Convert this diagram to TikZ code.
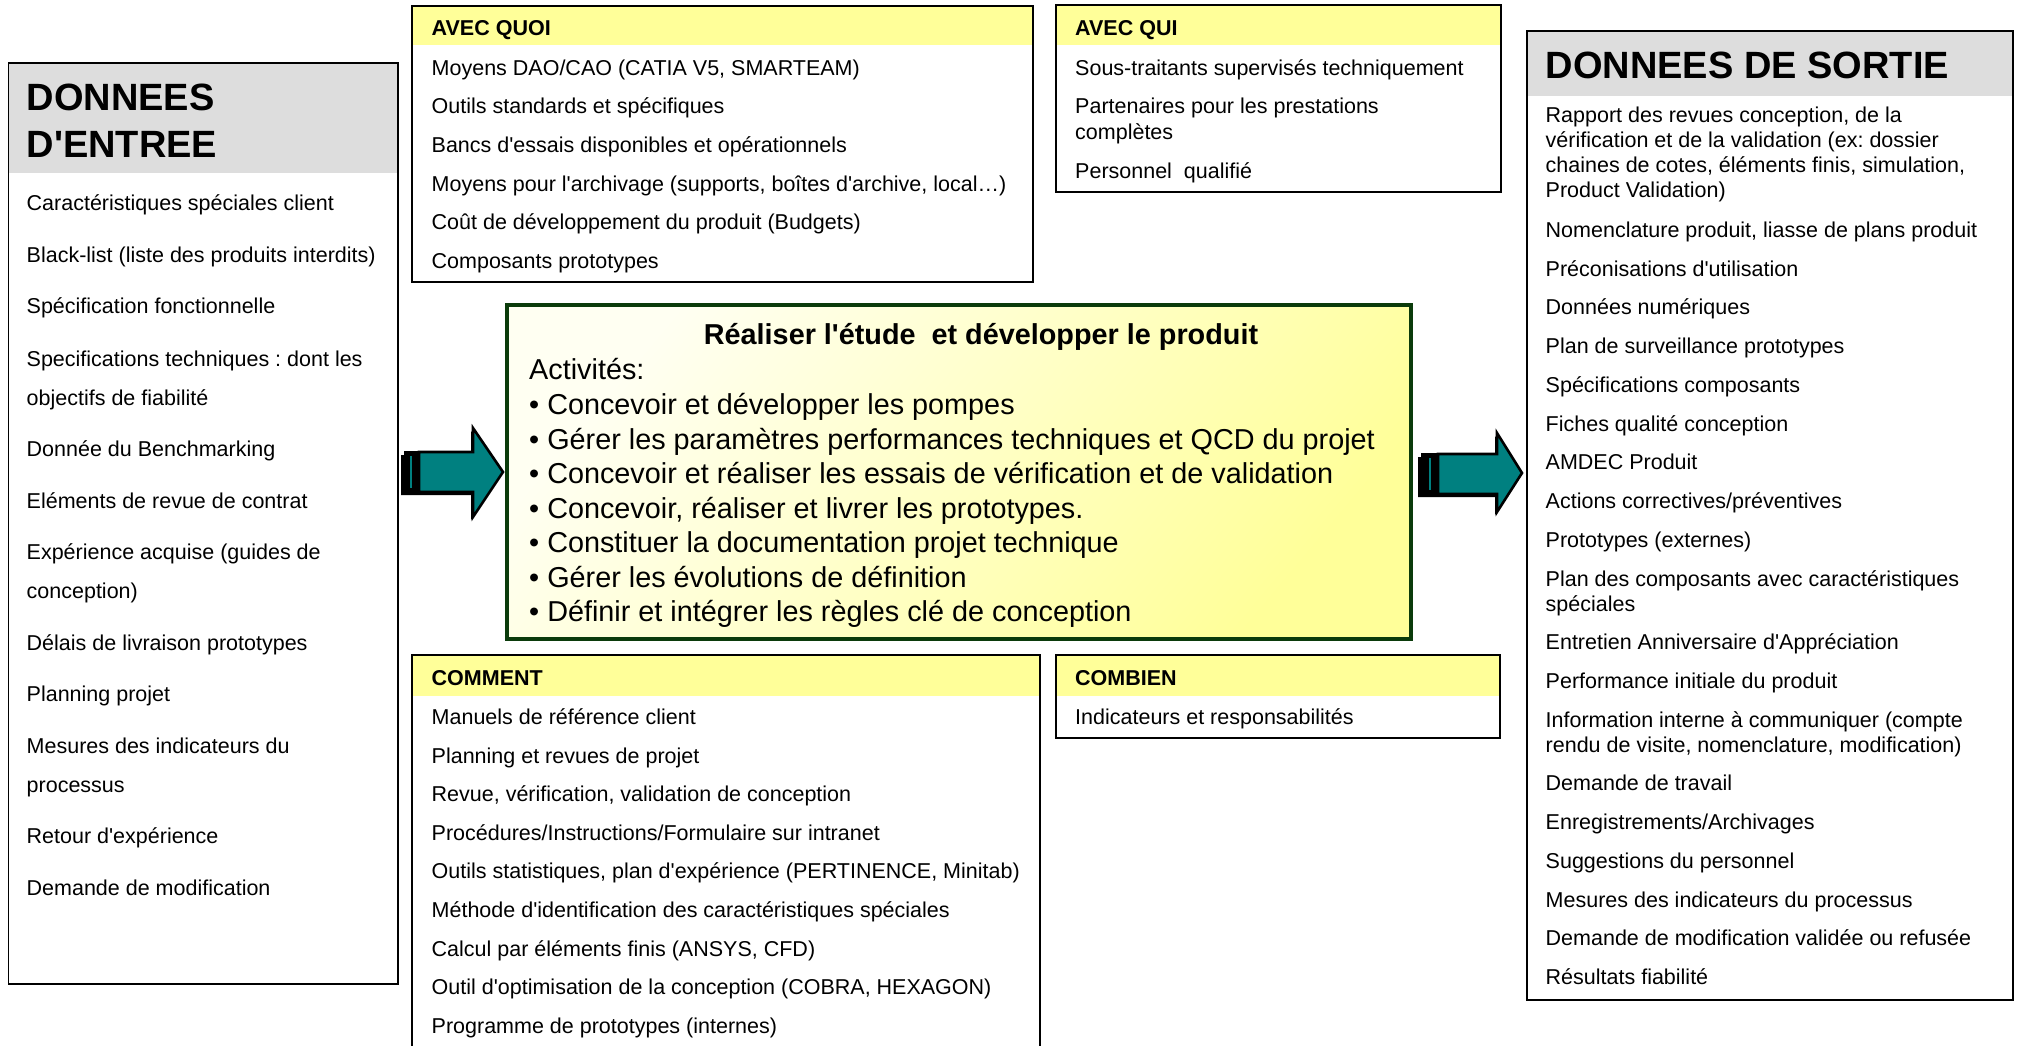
\documentclass[tikz,border=0pt]{standalone}
\usepackage{fontspec}
\setmainfont{Liberation Sans}[Ligatures=TeXOff]
\frenchspacing
\definecolor{hdrylw}{HTML}{FFFF99}
\definecolor{hdrgray}{HTML}{DDDDDD}
\definecolor{arrteal}{HTML}{008080}
\definecolor{boxgreen}{HTML}{0B3B0B}
\definecolor{paleylw}{HTML}{FFFFF2}
\begin{document}
\begin{tikzpicture}[x=1pt,y=-1pt,
  txt/.style={anchor=base west,inner sep=0pt,font=\fontsize{21.5}{25}\selectfont},
  hdr/.style={anchor=base west,inner sep=0pt,font=\fontsize{21.5}{25}\selectfont\bfseries},
  bighdr/.style={anchor=base west,inner sep=0pt,font=\fontsize{38}{46}\selectfont\bfseries},
  act/.style={anchor=base west,inner sep=0pt,font=\fontsize{28.8}{34}\selectfont},
  frame/.style={draw=black,line width=1.6pt},
  arrowbody/.style={fill=arrteal,draw=black,line width=2.6pt,line join=miter},
]
\useasboundingbox (0,0) rectangle (2019,1045);
\fill[white] (0,0) rectangle (2019,1045);

% ---------- header fills ----------
\fill[hdrgray] (9,64) rectangle (397,173);
\fill[hdrgray] (1528,32) rectangle (2012,96);
\fill[hdrylw] (413,7) rectangle (1032,45);
\fill[hdrylw] (1057,6) rectangle (1500,45);
\fill[hdrylw] (413,656) rectangle (1039,696);
\fill[hdrylw] (1057,656) rectangle (1499,696);

% ---------- frames ----------
\draw[frame] (8.5,63) rectangle (398,984);
\draw[frame] (1527,31) rectangle (2013,1000);
\draw[frame] (412,6) rectangle (1033,282);
\draw[frame] (1056,5) rectangle (1501,192);
\draw[frame] (412,1050) -- (412,655) -- (1040,655) -- (1040,1050);
\draw[frame] (1056,655) rectangle (1500,738);

% ---------- centre box ----------
\shade[shading=axis,top color=paleylw,bottom color=hdrylw,shading angle=50]
  (507,305) rectangle (1411,639);
\draw[draw=boxgreen,line width=4pt] (507,305) rectangle (1411,639);

% ---------- block arrows ----------
\fill[black] (401,455) -- (471,455) -- (471,431) -- (501,475) -- (471,520) -- (471,495) -- (401,495) -- cycle;
\draw[arrowbody] (419,452) -- (473,452) -- (473,428) -- (503,472) -- (473,517) -- (473,492) -- (419,492) -- cycle;
\fill[black] (404,450.7) rectangle (419,493.3);
\fill[arrteal] (409.5,456) rectangle (411.5,488);

\fill[black] (1418,457) -- (1495,457) -- (1495,436) -- (1520,476) -- (1495,515) -- (1495,497) -- (1418,497) -- cycle;
\draw[arrowbody] (1438,454) -- (1497,454) -- (1497,433) -- (1522,473) -- (1497,512) -- (1497,494) -- (1438,494) -- cycle;
\fill[black] (1421,452.7) rectangle (1438,495.3);
\fill[arrteal] (1429,458) rectangle (1431,490);

% ---------- DONNEES D'ENTREE ----------
\node[bighdr] (inh1) at (26.5,110) {DONNEES};
\node[bighdr] (inh2) at (26.5,157) {D'ENTREE};
\node[txt] (in1)  at (26.5,210.5) {Caractéristiques spéciales client};
\node[txt] (in2)  at (26.5,262)   {Black-list (liste des produits interdits)};
\node[txt] (in3)  at (26.5,313.5) {Spécification fonctionnelle};
\node[txt] (in4a) at (26.5,366)   {Specifications techniques : dont les};
\node[txt] (in4b) at (26.5,405)   {objectifs de fiabilité};
\node[txt] (in5)  at (26.5,456.5) {Donnée du Benchmarking};
\node[txt] (in6)  at (26.5,508)   {Eléments de revue de contrat};
\node[txt] (in7a) at (26.5,559.5) {Expérience acquise (guides de};
\node[txt] (in7b) at (26.5,598.5) {conception)};
\node[txt] (in8)  at (26.5,650)   {Délais de livraison prototypes};
\node[txt] (in9)  at (26.5,701.5) {Planning projet};
\node[txt] (in10a) at (26.5,753) {Mesures des indicateurs du};
\node[txt] (in10b) at (26.5,792) {processus};
\node[txt] (in11) at (26.5,843.5) {Retour d'expérience};
\node[txt] (in12) at (26.5,895)   {Demande de modification};

% ---------- AVEC QUOI ----------
\node[hdr] (qh) at (431.5,35) {AVEC QUOI};
\node[txt] (q1) at (431.5,75.3)  {Moyens DAO/CAO (CATIA V5, SMARTEAM)};
\node[txt] (q2) at (431.5,113.9) {Outils standards et spécifiques};
\node[txt] (q3) at (431.5,152.5) {Bancs d'essais disponibles et opérationnels};
\node[txt] (q4) at (431.5,191.1) {Moyens pour l'archivage (supports, boîtes d'archive, local…)};
\node[txt] (q5) at (431.5,229.7) {Coût de développement du produit (Budgets)};
\node[txt] (q6) at (431.5,268.3) {Composants prototypes};

% ---------- AVEC QUI ----------
\node[hdr] (wh) at (1075,35) {AVEC QUI};
\node[txt] (w1)  at (1075,75.3)  {Sous-traitants supervisés techniquement};
\node[txt] (w2a) at (1075,113.9) {Partenaires pour les prestations};
\node[txt] (w2b) at (1075,139.6) {complètes};
\node[txt] (w3)  at (1075,178.2) {Personnel\ \ qualifié};

% ---------- centre text ----------
\node[anchor=base,inner sep=0pt,font=\fontsize{28.8}{34}\selectfont\bfseries] (title) at (981,344)
  {Réaliser l'étude\ \ et développer le produit};
\node[act] (a0) at (529,379.5) {Activités:};
\node[act] (a1) at (529,414.5) {• Concevoir et développer les pompes};
\node[act] (a2) at (529,449)   {• Gérer les paramètres performances techniques et QCD du projet};
\node[act] (a3) at (529,483.5) {• Concevoir et réaliser les essais de vérification et de validation};
\node[act] (a4) at (529,518)   {• Concevoir, réaliser et livrer les prototypes.};
\node[act] (a5) at (529,552.5) {• Constituer la documentation projet technique};
\node[act] (a6) at (529,587)   {• Gérer les évolutions de définition};
\node[act] (a7) at (529,621.5) {• Définir et intégrer les règles clé de conception};

% ---------- COMMENT ----------
\node[hdr] (ch) at (431.5,685) {COMMENT};
\node[txt] (c1) at (431.5,724.5)  {Manuels de référence client};
\node[txt] (c2) at (431.5,763)    {Planning et revues de projet};
\node[txt] (c3) at (431.5,801.6)  {Revue, vérification, validation de conception};
\node[txt] (c4) at (431.5,840.2)  {Procédures/Instructions/Formulaire sur intranet};
\node[txt] (c5) at (431.5,878.8)  {Outils statistiques, plan d'expérience (PERTINENCE, Minitab)};
\node[txt] (c6) at (431.5,917.4)  {Méthode d'identification des caractéristiques spéciales};
\node[txt] (c7) at (431.5,956)    {Calcul par éléments finis (ANSYS, CFD)};
\node[txt] (c8) at (431.5,994.6)  {Outil d'optimisation de la conception (COBRA, HEXAGON)};
\node[txt] (c9) at (431.5,1033.2) {Programme de prototypes (internes)};

% ---------- COMBIEN ----------
\node[hdr] (bh) at (1075,685) {COMBIEN};
\node[txt] (b1) at (1075,724.5) {Indicateurs et responsabilités};

% ---------- DONNEES DE SORTIE ----------
\node[bighdr] (outh) at (1545.5,78) {DONNEES DE SORTIE};
\node[txt] (o1a) at (1545.5,122) {Rapport des revues conception, de la};
\node[txt] (o1b) at (1545.5,147) {vérification et de la validation (ex: dossier};
\node[txt] (o1c) at (1545.5,172) {chaines de cotes, éléments finis, simulation,};
\node[txt] (o1d) at (1545.5,197) {Product Validation)};
\node[txt] (o2)  at (1545.5,237.5) {Nomenclature produit, liasse de plans produit};
\node[txt] (o3)  at (1545.5,276.2) {Préconisations d'utilisation};
\node[txt] (o4)  at (1545.5,314.9) {Données numériques};
\node[txt] (o5)  at (1545.5,353.7) {Plan de surveillance prototypes};
\node[txt] (o6)  at (1545.5,392.4) {Spécifications composants};
\node[txt] (o7)  at (1545.5,431.1) {Fiches qualité conception};
\node[txt] (o8)  at (1545.5,469.8) {AMDEC Produit};
\node[txt] (o9)  at (1545.5,508.5) {Actions correctives/préventives};
\node[txt] (o10) at (1545.5,547.3) {Prototypes (externes)};
\node[txt] (o11a) at (1545.5,586)   {Plan des composants avec caractéristiques};
\node[txt] (o11b) at (1545.5,611)   {spéciales};
\node[txt] (o12) at (1545.5,649.7) {Entretien Anniversaire d'Appréciation};
\node[txt] (o13) at (1545.5,688.4) {Performance initiale du produit};
\node[txt] (o14a) at (1545.5,727.2) {Information interne à communiquer (compte};
\node[txt] (o14b) at (1545.5,752.2) {rendu de visite, nomenclature, modification)};
\node[txt] (o15) at (1545.5,790.9) {Demande de travail};
\node[txt] (o16) at (1545.5,829.6) {Enregistrements/Archivages};
\node[txt] (o17) at (1545.5,868.3) {Suggestions du personnel};
\node[txt] (o18) at (1545.5,907.1) {Mesures des indicateurs du processus};
\node[txt] (o19) at (1545.5,945.8) {Demande de modification validée ou refusée};
\node[txt] (o20) at (1545.5,984.5) {Résultats fiabilité};
\end{tikzpicture}
\end{document}
